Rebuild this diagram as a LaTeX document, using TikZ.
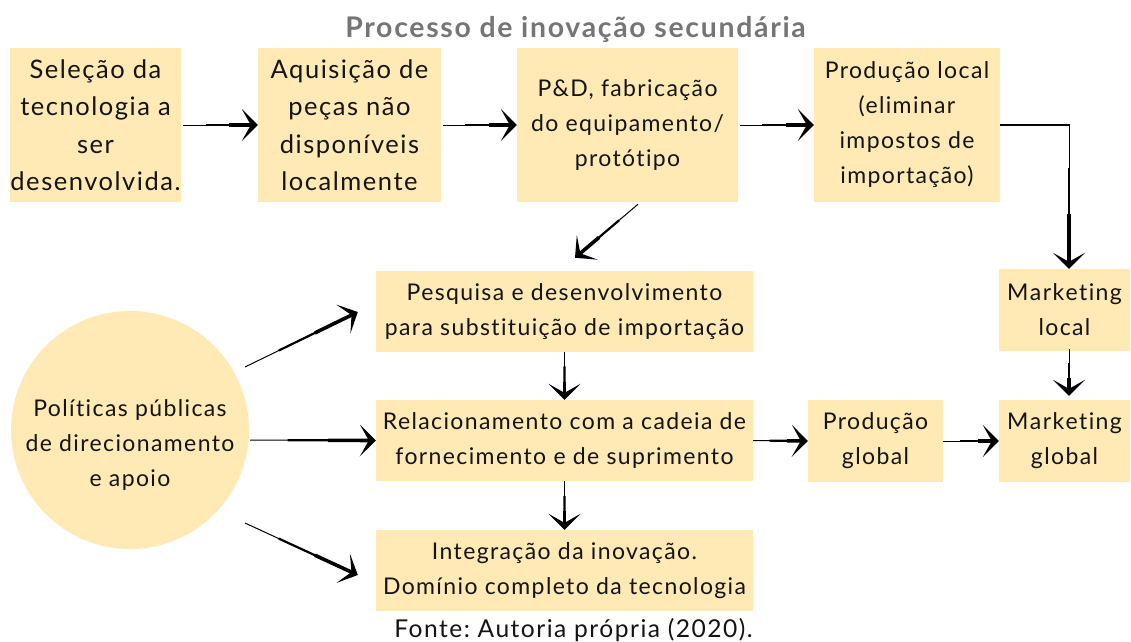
\documentclass[tikz,border=0pt]{standalone}
\usepackage{fontspec}
\setmainfont{Lato}[LetterSpace=6, Ligatures=NoCommon]
\usetikzlibrary{arrows.meta,calc}
\definecolor{boxfill}{RGB}{255,233,180}
\definecolor{titlegray}{RGB}{117,117,117}
\definecolor{inkblack}{RGB}{20,20,20}
\frenchspacing
\tikzset{
  box/.style={fill=boxfill, draw=none, align=center, inner sep=0pt, text=inkblack, font=\fontsize{23}{35}\selectfont},
  bigbox/.style={box, font=\fontsize{25.5}{37.5}\selectfont},
  nokern/.style={font=\fontsize{23}{35}\selectfont\addfontfeature{Kerning=Off}},
  shaftA/.style={line width=1pt, shorten >=10pt},
  shaftB/.style={line width=2.2pt, shorten >=10pt},
  shaftC/.style={line width=3.6pt, -{Stealth[length=16pt,width=32pt,inset=9pt]}},
}
\newcommand\tconn[2]{%
  \draw[shaftA] #1 -- #2;
  \draw[shaftB] ($#1!0.3!#2$) -- #2;
  \draw[shaftC] ($#1!0.62!#2$) -- #2;}
\begin{document}
\begin{tikzpicture}[x=1pt,y=-1pt]
\useasboundingbox (0,0) rectangle (1131,641);
\node[font=\bfseries\fontsize{28.4}{30}\selectfont, text=titlegray, anchor=base] (title) at (575.5,37) {Processo de inovação secundária};

\node[bigbox, minimum width=171pt, minimum height=154pt] (b1) at (95.5,125) {Seleção da\\tecnologia a\\ser\\desenvolvida.};
\node[bigbox, minimum width=183pt, minimum height=154pt] (b2) at (349.5,125) {Aquisição de\\peças não\\disponíveis\\localmente};
\node[box, minimum width=221pt, minimum height=154pt] (b3) at (627.5,125) {P\&D, fabricação\\do equipamento/\\protótipo};
\node[box, minimum width=186pt, minimum height=154pt] (b4) at (907,125) {Produção local\\(eliminar\\impostos de\\importação)};

\node[box, minimum width=377pt, minimum height=81pt] (pesq) at (564.5,311.5) {Pesquisa e desenvolvimento\\para substituição de importação};
\node[box, minimum width=377pt, minimum height=81pt] (rel) at (564.5,440.5) {Relacionamento com a cadeia de\\fornecimento e de suprimento};
\node[box, minimum width=377pt, minimum height=81pt] (int) at (564.5,570.5) {Integração da inovação.\\Domínio completo da tecnologia};

\node[box, nokern, minimum width=131pt, minimum height=82pt] (ml) at (1064.5,310) {Marketing\\local};
\node[box, minimum width=135pt, minimum height=82pt] (pg) at (875.5,441) {Produção\\global};
\node[box, nokern, minimum width=131pt, minimum height=82pt] (mg) at (1064.5,441) {Marketing\\global};

\node[circle, fill=boxfill, minimum size=238pt, inner sep=0pt] (circ) at (130,430) {};
\node[align=center, text=inkblack, font=\fontsize{23}{35}\selectfont] (circtxt) at (130,445) {Políticas públicas\\de direcionamento\\e apoio};

\node[font=\fontsize{24.6}{26}\selectfont, text=inkblack, anchor=base] (src) at (573.5,637) {Fonte: Autoria própria (2020).};

% connectors
\coordinate (b1o) at ($(b1.east)+(2,0)$);
\tconn{(b1o)}{(b2.west)}
\coordinate (b2o) at ($(b2.east)+(2,0)$);
\tconn{(b2o)}{(b3.west)}
\coordinate (b3o) at ($(b3.east)+(2,0)$);
\tconn{(b3o)}{(b4.west)}

\coordinate (c3s) at ($(b3.south)+(10.5,2)$);
\coordinate (c3e) at ($(pesq.north)+(10.5,-13)$);
\tconn{(c3s)}{(c3e)}

\coordinate (mlin) at ($(ml.north)+(4.5,0)$);
\coordinate (corner) at (b4.east -| mlin);
\draw[line width=1.4pt] (b4.east) -- ($(corner)+(0.7,0)$);
\tconn{(corner)}{(mlin)}

\coordinate (mls) at ($(ml.south)+(4.5,-2)$);
\coordinate (mgn) at ($(mg.north)+(4.5,-4)$);
\tconn{(mls)}{(mgn)}

\tconn{(rel.east)}{(pg.west)}
\tconn{(pg.east)}{(mg.west)}
\tconn{(pesq.south)}{(rel.north)}
\tconn{(rel.south)}{(int.north)}

\coordinate (p1s) at ($(circ.center)+(115,-63)$);
\coordinate (p1e) at ($(pesq.west)+(-18,0.5)$);
\tconn{(p1s)}{(p1e)}
\coordinate (p2s) at ($(circ.center)+(120,10)$);
\tconn{(p2s)}{(rel.west)}
\coordinate (p3s) at ($(circ.center)+(115,93)$);
\coordinate (p3e) at ($(int.west)+(-18,4.5)$);
\tconn{(p3s)}{(p3e)}
\end{tikzpicture}
\end{document}
